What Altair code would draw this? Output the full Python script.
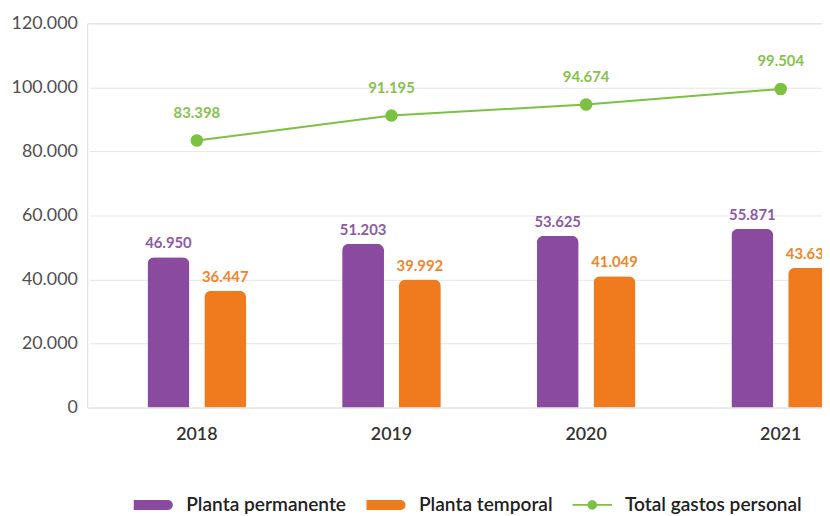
import altair as alt
import pandas as pd

years = ["2018", "2019", "2020", "2021"]
planta_permanente = [46950, 51203, 53625, 55871]
planta_temporal = [36447, 39992, 41049, 43633]
total_gastos = [83398, 91195, 94674, 99504]
series = ["Planta permanente", "Planta temporal", "Total gastos personal"]
y_ticks = [0, 20000, 40000, 60000, 80000, 100000, 120000]


def fmt(v):
    return f"{v:,}".replace(",", ".")


bars_df = pd.DataFrame({
    "year": years * 2,
    "serie": [series[0]] * len(years) + [series[1]] * len(years),
    "value": planta_permanente + planta_temporal,
})
bars_df["label"] = bars_df["value"].map(fmt)

line_df = pd.DataFrame({"year": years, "serie": series[2], "value": total_gastos})
line_df["label"] = line_df["value"].map(fmt)

PURPLE = "#8A4A9F"
ORANGE = "#F07B1F"
GREEN = "#7DC143"
PURPLE_TXT = "#8D5AA6"
ORANGE_TXT = "#F0862A"
GREEN_TXT = "#86C24E"
FONT = "Lato"

color_scale = alt.Scale(domain=series, range=[PURPLE, ORANGE, GREEN])
pill = "M-1,-0.25H0.72A0.25,0.25 0 0,1 0.72,0.25H-1Z"
linedot = ("M-1,-0.045H-0.2V0.045H-1Z M0.2,-0.045H1V0.045H0.2Z "
           "M0.24,0A0.24,0.24 0 1,1 -0.24,0A0.24,0.24 0 1,1 0.24,0Z")
shape_scale = alt.Scale(domain=series, range=[pill, pill, linedot])

legend = alt.Legend(
    title=None, orient="none", legendX=47, legendY=466, direction="horizontal",
    symbolSize=1600, symbolStrokeWidth=0, labelFontSize=19.3, labelFontWeight=600,
    labelColor="#222222", labelFont=FONT, labelOffset=13, columnPadding=20,
    labelLimit=400,
)

x_scale = alt.Scale(domain=years, range=[2, 809], paddingInner=0.493, paddingOuter=0.2995)
x_enc = alt.X(
    "year:N", scale=x_scale,
    axis=alt.Axis(title=None, labelAngle=0, ticks=False, domain=False, labelPadding=18,
                  labelFontSize=18, labelFontWeight=600, labelColor="#333333", labelFont=FONT),
)
y_enc = alt.Y(
    "value:Q", scale=alt.Scale(domain=[0, 120000], nice=False),
    axis=alt.Axis(title=None, values=y_ticks, ticks=False, domain=False, labelPadding=10,
                  labelFontSize=18, labelColor="#505050", labelFont=FONT,
                  gridColor="#e6e6e6", gridWidth=1,
                  labelExpr="replace(format(datum.value, ','), ',', '.')"),
)
xoff = alt.XOffset("serie:N", scale=alt.Scale(domain=series[:2], paddingInner=0.263, paddingOuter=0))

bars = alt.Chart(bars_df).mark_bar(
    cornerRadiusTopLeft=7, cornerRadiusTopRight=7
).encode(
    x=x_enc, y=y_enc, xOffset=xoff,
    color=alt.Color("serie:N", scale=color_scale, legend=legend),
)

bar_text_perm = alt.Chart(bars_df).transform_filter(
    alt.datum.serie == series[0]
).mark_text(dy=-14, fontSize=15, fontWeight="bold", font=FONT, color=PURPLE_TXT).encode(
    x=x_enc, y=y_enc, xOffset=xoff, text="label:N"
)
bar_text_temp = alt.Chart(bars_df).transform_filter(
    alt.datum.serie == series[1]
).mark_text(dy=-14, fontSize=15, fontWeight="bold", font=FONT, color=ORANGE_TXT).encode(
    x=x_enc, y=y_enc, xOffset=xoff, text="label:N"
)

line = alt.Chart(line_df).mark_line(color=GREEN, strokeWidth=2).encode(x=x_enc, y=y_enc)
points = alt.Chart(line_df).mark_circle(size=160, opacity=1, color=GREEN).encode(x=x_enc, y=y_enc)
line_text = alt.Chart(line_df).mark_text(
    dy=-28, fontSize=15, fontWeight="bold", font=FONT, color=GREEN_TXT
).encode(x=x_enc, y=y_enc, text="label:N")

legend_helper = alt.Chart(line_df).transform_filter("false").mark_point(
    filled=True, opacity=1
).encode(
    x=x_enc, y=y_enc,
    color=alt.Color("serie:N", scale=color_scale, legend=legend),
    shape=alt.Shape("serie:N", scale=shape_scale, legend=legend),
)

chart = alt.layer(
    bars, bar_text_perm, bar_text_temp, line, points, line_text, legend_helper
).properties(
    width=742, height=388,
    autosize=alt.AutoSizeParams(type="none"),
    padding={"left": 80, "top": 13, "right": 0, "bottom": 110},
).configure_view(stroke=None).configure(background="white")

chart.save("out.html", embed_options={"renderer": "svg", "actions": False})
